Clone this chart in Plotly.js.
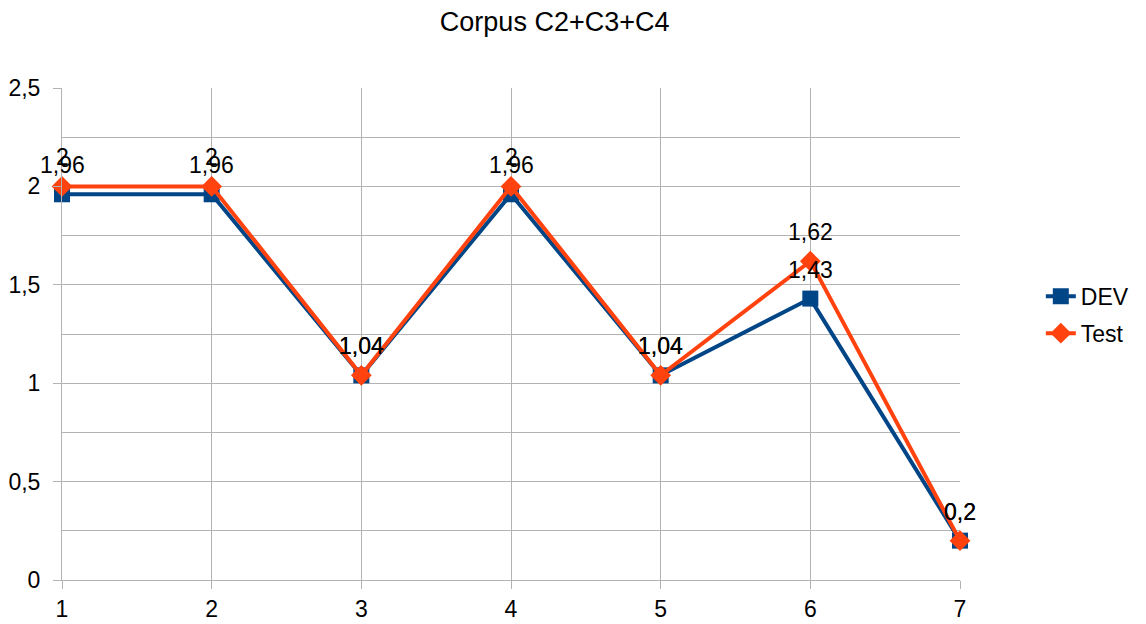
<!DOCTYPE html>
<html><head><meta charset="utf-8">
<script src="https://cdn.plot.ly/plotly-3.0.1.min.js"></script>
<style>body{margin:0;background:#fff}#c{width:1146px;height:624px}</style>
</head><body><div id="c"></div>
<script>
const categories = [1, 2, 3, 4, 5, 6, 7];
const devValues = [1.96, 1.96, 1.04, 1.96, 1.04, 1.43, 0.2];
const testValues = [2, 2, 1.04, 2, 1.04, 1.62, 0.2];
const yTickVals = [0, 0.5, 1, 1.5, 2, 2.5];
const yTickText = ['0', '0,5', '1', '1,5', '2', '2,5'];
const fmt = v => String(v).replace('.', ',');
const font = 'Liberation Sans, Arial, sans-serif';

const traces = [
  {x: categories, y: devValues, name: 'DEV', mode: 'lines+markers', legendgroup: 'a',
   line: {color: '#004586', width: 4},
   marker: {symbol: 'square', size: 16, color: '#004586'}, cliponaxis: false},
  {x: categories, y: testValues, name: 'Test', mode: 'lines+markers', legendgroup: 'b',
   line: {color: '#ff420e', width: 4},
   marker: {symbol: 'diamond', size: 16, color: '#ff420e'}, cliponaxis: false}
];

const labelAnn = (xs, ys, shift) => xs.map((x, i) => ({
  x: x, y: ys[i], xref: 'x', yref: 'y', text: fmt(ys[i]), showarrow: false,
  yshift: shift, xanchor: 'center', yanchor: 'middle',
  font: {family: font, size: 23, color: '#000'}
}));

const layout = {
  width: 1146, height: 624,
  margin: {l: 62, r: 184, t: 88, b: 44},
  paper_bgcolor: '#fff', plot_bgcolor: '#fff',
  font: {family: font, size: 23, color: '#000'},
  title: {text: 'Corpus C2+C3+C4', x: 0.484, xref: 'container', xanchor: 'center',
          y: 0.965, yanchor: 'middle',
          font: {family: font, size: 27, color: '#000'}},
  xaxis: {range: [1, 7], tickvals: categories, ticktext: categories.map(String),
          showgrid: true, gridcolor: '#b3b3b3', gridwidth: 1,
          showline: true, linecolor: '#b3b3b3', linewidth: 1,
          ticks: 'outside', ticklen: 8, tickcolor: '#b3b3b3', zeroline: false,
          tickfont: {family: font, size: 23, color: '#000'}},
  yaxis: {range: [0, 2.5], tickvals: yTickVals, ticktext: yTickText,
          showgrid: true, gridcolor: '#b3b3b3', gridwidth: 1,
          minor: {dtick: 0.25, tick0: 0, showgrid: true, gridcolor: '#b3b3b3', gridwidth: 1},
          showline: true, linecolor: '#b3b3b3', linewidth: 1,
          ticks: 'outside', ticklen: 8, tickcolor: '#b3b3b3', zeroline: false,
          ticklabelstandoff: 8,
          tickfont: {family: font, size: 23, color: '#000'}},
  legend: {x: 1.09, xanchor: 'left', y: 0.539, yanchor: 'middle',
           font: {family: font, size: 23, color: '#000'}, tracegroupgap: 4},
  annotations: labelAnn(categories, devValues, 29).concat(labelAnn(categories, testValues, 29)),
  showlegend: true
};

Plotly.newPlot('c', traces, layout, {staticPlot: true, displayModeBar: false});
</script></body></html>
